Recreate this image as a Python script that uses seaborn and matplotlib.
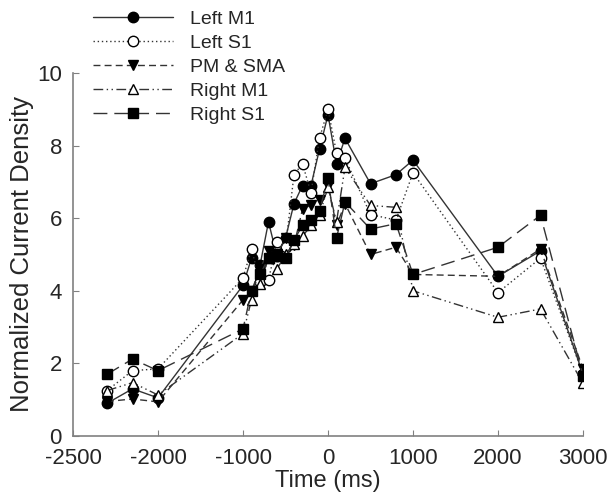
import numpy as np
import pandas as pd
import seaborn as sns
import matplotlib.pyplot as plt

# time points (ms)
times = [-2600, -2300, -2000, -1000, -900, -800, -700, -600, -500, -400, -300,
         -200, -100, 0, 100, 200, 500, 800, 1000, 2000, 2500, 3000]

left_m1 = [0.9, 1.3, 1.05, 4.15, 4.9, 4.7, 5.9, 4.95, 5.45, 6.4, 6.9,
           6.9, 7.9, 8.85, 7.5, 8.2, 6.95, 7.2, 7.6, 4.4, 5.1, 1.7]
left_s1 = [1.25, 1.8, 1.85, 4.35, 5.15, 4.25, 4.3, 5.35, 5.2, 7.2, 7.5,
           6.7, 8.2, 9.0, 7.8, 7.65, 6.1, 5.95, 7.25, 3.95, 4.9, 1.7]
pm_sma = [0.95, 1.02, 0.94, 3.75, 4.0, 4.6, 5.1, 5.0, 5.45, 5.25, 6.25,
          6.35, 6.5, 6.9, 5.8, 6.4, 5.0, 5.2, 4.45, 4.4, 5.15, 1.85]
right_m1 = [1.25, 1.47, 1.13, 2.82, 3.75, 4.2, 4.9, 4.6, 5.0, 5.3, 5.5,
            5.8, 6.1, 6.85, 5.9, 7.4, 6.35, 6.3, 4.0, 3.27, 3.5, 1.45]
right_s1 = [1.7, 2.12, 1.8, 2.95, 4.0, 4.45, 4.9, 4.95, 4.9, 5.4, 5.8,
            5.95, 6.2, 7.1, 5.45, 6.45, 5.7, 5.85, 4.45, 5.2, 6.08, 1.66]

names = ['Left M1', 'Left S1', 'PM & SMA', 'Right M1', 'Right S1']
series = [left_m1, left_s1, pm_sma, right_m1, right_s1]

x_ticks = [-3000, -2000, -1000, 0, 1000, 2000, 3000]
x_tick_labels = ['-2500', '-2000', '-1000', '0', '1000', '2000', '3000']
y_ticks = [0, 2, 4, 6, 8, 10]

styles = {
    'Left M1': dict(marker='o', mfc='black', ls='-'),
    'Left S1': dict(marker='o', mfc='white', ls=(0, (1, 2))),
    'PM & SMA': dict(marker='v', mfc='black', ls=(0, (5, 3))),
    'Right M1': dict(marker='^', mfc='white', ls=(0, (7, 2.5, 1, 2.5, 1, 2.5))),
    'Right S1': dict(marker='s', mfc='black', ls=(0, (10, 5))),
}

sns.set_style('ticks')
plt.rcParams['font.family'] = ['Liberation Sans', 'DejaVu Sans']

fig = plt.figure(figsize=(6.11, 5.0), dpi=100)
ax = fig.add_axes([73 / 611, 64 / 500, 510 / 611, 363 / 500])

for name, vals in zip(names, series):
    st = styles[name]
    df = pd.DataFrame({'t': times, 'v': vals})
    sns.lineplot(data=df, x='t', y='v', ax=ax, color='#333333', linewidth=1,
                 linestyle=st['ls'], marker=st['marker'], markersize=7.5,
                 markerfacecolor=st['mfc'], markeredgecolor='black',
                 markeredgewidth=1, label=name, sort=False)

ax.set_xlim(-3000, 3000)
ax.set_ylim(0, 10)
ax.set_xticks(x_ticks)
ax.set_xticklabels(x_tick_labels)
ax.set_yticks(y_ticks)
ax.set_xlabel('Time (ms)', fontsize=17, labelpad=0)
ax.set_ylabel('Normalized Current Density', fontsize=18.5, labelpad=2)
ax.tick_params(axis='both', direction='in', length=4, color='#808080',
               labelsize=16)
ax.tick_params(axis='x', pad=9)
ax.tick_params(axis='y', pad=8)
for s in ['top', 'right']:
    ax.spines[s].set_visible(False)
for s in ['left', 'bottom']:
    ax.spines[s].set_color('#808080')
    ax.spines[s].set_linewidth(1.2)

leg = ax.legend(loc='upper left', bbox_to_anchor=(93 / 611, 1 - 10 / 500),
                bbox_transform=fig.transFigure, frameon=False, fontsize=14,
                handlelength=4.1, handletextpad=0.9, labelspacing=0.33,
                borderpad=0, borderaxespad=0)

fig.savefig('out.png', dpi=100)
plt.close(fig)
